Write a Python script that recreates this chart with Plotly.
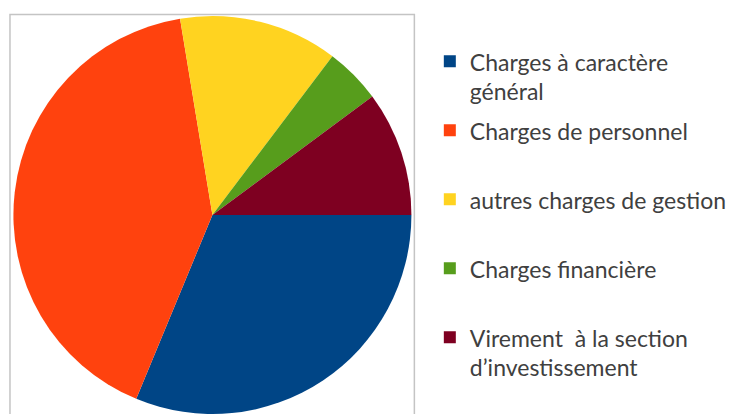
import plotly.graph_objects as go

# Budget breakdown (share of total, %)
names = [["Charges à caractère", "général"],
         ["Charges de personnel"],
         ["autres charges de gestion"],
         ["Charges financière"],
         ["Virement  à la section", "d’investissement"]]
values = [31.25, 41.15, 12.9, 4.55, 10.15]
colors = ["#004586", "#ff420e", "#ffd320", "#579d1c", "#7e0021"]

W, H = 732, 414

# The legend font is tiny and every entry is 9 legend lines tall, so entries
# are spaced ~69px apart like the original; the visible text sits on lines
# 2 and 6 in a bigger span (that gives ~29px between an entry's two lines).
SLOTS = 9
TEXT_SLOTS = [1, 5]


def legend_label(lines):
    out = [" "] * SLOTS
    for slot, s in zip(TEXT_SLOTS, lines):
        out[slot] = f"<span style='font-size:23px'>{s}</span>"
    return "<br>".join(out)


labels = [legend_label(n) for n in names]

fig = go.Figure(go.Pie(labels=labels, values=values, sort=False,
                       direction="clockwise", rotation=90,
                       marker=dict(colors=colors, line=dict(width=0)),
                       textinfo="none", hoverinfo="percent",
                       domain=dict(x=[12 / W, 414 / W], y=[0, 1 - 16 / H])))

# grey frame round the plot area (runs off the bottom like the original)
fig.add_shape(type="rect", xref="paper", yref="paper",
              x0=10 / W, x1=415.5 / W, y0=-0.1, y1=1 - 14.5 / H,
              line=dict(color="#c4c4c4", width=1.5), fillcolor="rgba(0,0,0,0)")

fig.update_layout(width=W, height=H, margin=dict(l=0, r=0, t=0, b=0),
                  paper_bgcolor="white", plot_bgcolor="white",
                  font=dict(family="Lato", color="#404040"),
                  legend=dict(x=431 / W, xanchor="left", y=1 - 51 / H, yanchor="top",
                              valign="top", bgcolor="rgba(0,0,0,0)",
                              font=dict(size=66 / 1.3 / SLOTS, color="#404040"),
                              traceorder="normal"))

# the page body has a default 8px margin; drop it so the chart sits at 0,0
fig.write_html("out.html", config={"displayModeBar": False},
               post_script="document.body.style.margin='0';")
